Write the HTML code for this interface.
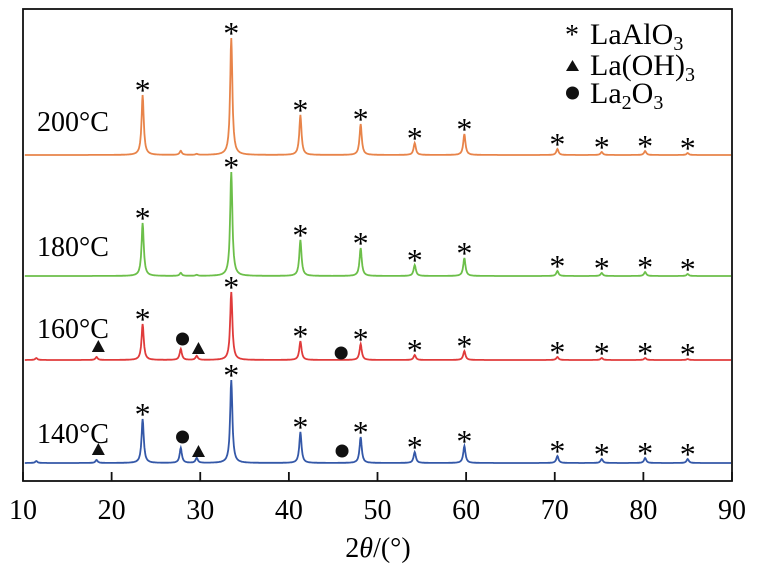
<!DOCTYPE html>
<html><head><meta charset="utf-8"><style>
body{margin:0;background:#fff}
svg{display:block;font-family:"Liberation Serif",serif}
</style></head><body>
<svg id="chart" width="758" height="565" viewBox="0 0 758 565" xmlns="http://www.w3.org/2000/svg">
<g id="series"></g>
<g id="marks"></g>
<rect x="23" y="9" width="709" height="472" fill="none" stroke="#111" stroke-width="1.8"/>
<g id="axis"></g>
<text x="378" y="557" font-size="28" text-anchor="middle">2<tspan font-style="italic">θ</tspan>/(°)</text>
<g font-size="30">
<text x="565" y="44"><tspan font-size="28">*</tspan><tspan x="590">LaAlO</tspan><tspan font-size="20" dy="6">3</tspan></text>
<polygon points="566,71 579,71 572.5,60" fill="#111"/>
<text x="590" y="75">La(OH)<tspan font-size="20" dy="6">3</tspan></text>
<circle cx="572.5" cy="93" r="6.5" fill="#111"/>
<text x="590" y="103">La<tspan font-size="20" dy="6">2</tspan><tspan dy="-6">O</tspan><tspan font-size="20" dy="6">3</tspan></text>
</g>
</svg>
<script>
// data
const xTicks=[10,20,30,40,50,60,70,80,90];
const seriesNames=["200°C","180°C","160°C","140°C"];
const seriesColors=["#e8844a","#6cbf4a","#e03b3b","#3458a8"];
const baselines=[155,276,360,463]; // series offsets (intensity zero)
const peakPos=[11.5,18.3,23.5,27.8,29.6,33.5,41.3,48.1,54.2,59.8,70.3,75.3,80.2,85.0];
const h200=[0,0,60,4,1,117,40,31,12,21,6,3,4,2];
const h180=[0,0,53,3,1,104,36,28,11,18,5,3,4,2];
const h160=[2,3,36,11,4,68,19,16,5,9,3,2,2,1];
const h140=[2,3,44,15,5,83,31,26,11,17,7,4,5,4];
const heights=[h200,h180,h160,h140];
const starIdx=[2,5,6,7,8,9,10,11,12,13];
const triPos=[18.5,29.8];
const circPos=[[28.0,45.9],[28.0,46.0]];

const x=v=>23+(v-10)*(709/80);
const ns="http://www.w3.org/2000/svg";
const sg=document.getElementById('series'), mg=document.getElementById('marks'), ag=document.getElementById('axis');
function mk(t,a,p){const e=document.createElementNS(ns,t);for(const k in a)e.setAttribute(k,a[k]);p.appendChild(e);return e;}

heights.forEach((hs,si)=>{
  let d="";
  for(let v=10.2;v<=89.9;v+=0.05){
    let y=0;
    peakPos.forEach((p,i)=>{const w=0.15;y+=hs[i]/(1+((v-p)/w)**2);});
    d+=(d?"L":"M")+x(v).toFixed(1)+","+(baselines[si]-y).toFixed(1);
  }
  const path=mk('path',{d:d,fill:'none',stroke:seriesColors[si],'stroke-width':1.8},sg);
  
  
  const lab=mk('text',{x:37,y:baselines[si]-(si==0?24:si==1?20:si==2?22:20),'font-size':28},sg);
  lab.textContent=seriesNames[si];
  
  
  starIdx.forEach(i=>{
    const t=mk('text',{x:x(peakPos[i]),y:baselines[si]-hs[i]+6,'font-size':32,'text-anchor':'middle'},mg);
    t.textContent="*";
    
    
  });
  if(si>=2){
    triPos.forEach(p=>{
      const cx=x(p), cy=baselines[si]-(p<20?13:11);
      const tr=mk('polygon',{points:`${cx-6.5},${cy+5} ${cx+6.5},${cy+5} ${cx},${cy-7}`,fill:'#111'},mg);
      
      
    });
    circPos[si-2].forEach((p,k)=>{
      const c=mk('circle',{cx:x(p),cy:baselines[si]-(k==0?21:7)-(si==3?5:0),r:6.5,fill:'#111'},mg);
      
      
    });
  }
});
xTicks.forEach(v=>{
  const l=mk('line',{x1:x(v),x2:x(v),y1:481,y2:472,stroke:'#111','stroke-width':1.8},ag);
  
  
  const t=mk('text',{x:x(v),y:519,'font-size':28,'text-anchor':'middle'},ag);
  t.textContent=v;
  
  
});
</script>
</body></html>
